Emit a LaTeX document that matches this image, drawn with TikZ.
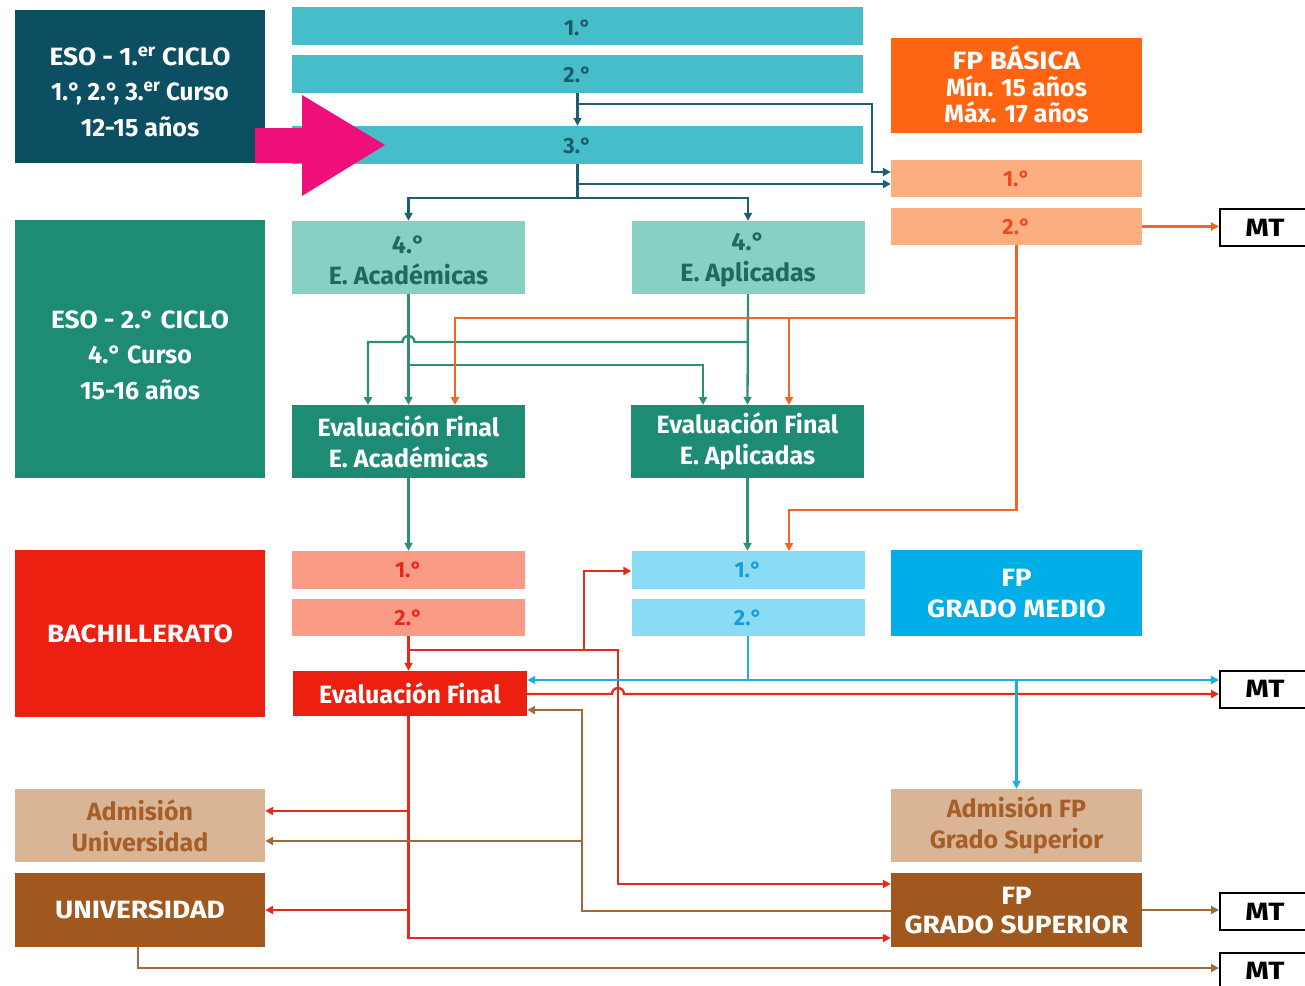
\documentclass[tikz,border=0pt]{standalone}
\usepackage{fontspec}
\usepackage{graphicx}
\setmainfont{Fira Sans}
\usetikzlibrary{arrows.meta}
\newcommand\wc[2][1.12]{\scalebox{#1}[1]{#2}}
\definecolor{esoone}{HTML}{0D4F62}
\definecolor{bar}{HTML}{45BEC9}
\definecolor{bartext}{HTML}{1B5C6B}
\definecolor{pink}{HTML}{EE0F7A}
\definecolor{fpb}{HTML}{FF6412}
\definecolor{fpblight}{HTML}{FBAF80}
\definecolor{fpbtext}{HTML}{EE4A1C}
\definecolor{esotwo}{HTML}{1E8C75}
\definecolor{fourlight}{HTML}{86D1C4}
\definecolor{fourtext}{HTML}{1E6A5B}
\definecolor{bachc}{HTML}{EB2010}
\definecolor{bachlight}{HTML}{F99B85}
\definecolor{bachtext}{HTML}{E8281A}
\definecolor{gmlight}{HTML}{8ADCF5}
\definecolor{gmtext}{HTML}{1A9BD8}
\definecolor{gmc}{HTML}{00AEE8}
\definecolor{tan}{HTML}{D9B596}
\definecolor{tantext}{HTML}{A65F28}
\definecolor{brown}{HTML}{A0581F}
\definecolor{tealline}{HTML}{1D5E70}
\definecolor{greenline}{HTML}{2F8E76}
\definecolor{orangeline}{HTML}{F26522}
\definecolor{redline}{HTML}{E8281A}
\definecolor{blueline}{HTML}{1AAEE2}
\definecolor{brownline}{HTML}{A06A3C}
\tikzset{
  box/.style={rectangle, inner sep=0pt},
  txt/.style={inner sep=0pt, align=center, font=\fontsize{25}{31}\selectfont\bfseries},
  talltxt/.style={txt, font=\fontsize{25}{35.5}\selectfont\bfseries},
  bartxt/.style={inner sep=0pt, font=\fontsize{22}{26}\selectfont\bfseries},
  sidebox/.style={box, minimum width=250pt},
  midbox/.style={box, minimum width=233pt},
  rightbox/.style={box, minimum width=251pt},
  mtbox/.style={rectangle, draw=black, line width=2pt, fill=white, minimum width=90pt, minimum height=37pt, inner sep=0pt, font=\fontsize{25}{28}\selectfont\bfseries},
  ln/.style={line width=2.3pt},
  arr/.style={ln, -{Triangle[length=8pt,width=8pt]}},
  tl/.style={draw=tealline, color=tealline},
  gl/.style={draw=greenline, color=greenline},
  ol/.style={draw=orangeline, color=orangeline},
  rl/.style={draw=redline, color=redline},
  bl/.style={draw=blueline, color=blueline},
  brl/.style={draw=brownline, color=brownline},
}
\begin{document}
\begin{tikzpicture}[x=1pt,y=-1pt]
\fill[white] (0,0) rectangle (1305,985);
\useasboundingbox (0,0) rectangle (1305,985);

% left column
\node[sidebox, fill=esoone, minimum height=153pt] (eso1) at (140,86.5) {};
\node[talltxt, text=white] (eso1t) at ([yshift=-5pt]eso1.center) {\wc[1.05]{ESO - 1.\textsuperscript{er} CICLO}\\\wc[0.97]{1.°, 2.°, 3.\textsuperscript{er} Curso}\\12-15 años};
\node[sidebox, fill=esotwo, minimum height=258pt] (eso2) at (140,349) {};
\node[talltxt, text=white] (eso2t) at ([yshift=-6pt]eso2.center) {\wc[1.05]{ESO - 2.° CICLO}\\4.° Curso\\15-16 años};
\node[sidebox, fill=bachc, minimum height=167pt] (bach) at (140,633.5) {};
\node[txt, text=white] (bacht) at (bach.center) {\wc{BACHILLERATO}};
\node[sidebox, fill=tan, minimum height=73pt] (admu) at (140,825.5) {};
\node[txt, text=tantext] (admut) at (admu.center) {Admisión\\Universidad};
\node[sidebox, fill=brown, minimum height=74pt] (univ) at (140,910) {};
\node[txt, text=white] (univt) at (univ.center) {\wc{UNIVERSIDAD}};

% top bars
\node[box, fill=bar, minimum width=571pt, minimum height=38pt] (bar1) at (577.5,26) {};
\node[bartxt, text=bartext] (bar1t) at ([yshift=-1.5pt]bar1.center) {1.°};
\node[box, fill=bar, minimum width=571pt, minimum height=38pt] (bar2) at (577.5,74) {};
\node[bartxt, text=bartext] (bar2t) at ([yshift=-1pt]bar2.center) {2.°};
\node[box, fill=bar, minimum width=571pt, minimum height=38pt] (bar3) at (577.5,145) {};
\node[bartxt, text=bartext] (bar3t) at ([yshift=-1pt]bar3.center) {3.°};

% FP basica
\node[rightbox, fill=fpb, minimum height=95pt] (fpb) at (1016.5,85.5) {};
\node[txt, text=white] (fpbt) at ([yshift=1pt]fpb.center) {\wc{FP BÁSICA}\\[-4.5pt]Mín. 15 años\\[-4.5pt]Máx. 17 años};
\node[rightbox, fill=fpblight, minimum height=37pt] (fpb1) at (1016.5,178.5) {};
\node[bartxt, text=fpbtext] (fpb1t) at (fpb1.center) {1.°};
\node[rightbox, fill=fpblight, minimum height=37pt] (fpb2) at (1016.5,226.5) {};
\node[bartxt, text=fpbtext] (fpb2t) at (fpb2.center) {2.°};

% 4th course
\node[midbox, fill=fourlight, minimum height=73pt] (acad4) at (408.5,257.5) {};
\node[txt, text=fourtext] (acad4t) at ([yshift=-2.5pt]acad4.center) {4.°\\E. Académicas};
\node[midbox, fill=fourlight, minimum height=73pt] (apl4) at (748,257.5) {};
\node[txt, text=fourtext] (apl4t) at ([yshift=-2.5pt]apl4.center) {4.°\\E. Aplicadas};
\node[midbox, fill=esotwo, minimum height=73pt] (efac) at (408.5,441.5) {};
\node[txt, text=white] (efact) at (efac.center) {Evaluación Final\\E. Académicas};
\node[midbox, fill=esotwo, minimum height=73pt] (efap) at (747.5,441.5) {};
\node[txt, text=white] (efapt) at (efap.center) {Evaluación Final\\E. Aplicadas};

% bachillerato / grado medio
\node[midbox, fill=bachlight, minimum height=38pt] (bach1) at (408.5,570) {};
\node[bartxt, text=bachtext] (bach1t) at (bach1.center) {1.°};
\node[midbox, fill=bachlight, minimum height=37pt] (bach2) at (408.5,617.5) {};
\node[bartxt, text=bachtext] (bach2t) at (bach2.center) {2.°};
\node[box, minimum width=234pt, fill=bachc, minimum height=45pt] (efb) at (410,693.5) {};
\node[txt, text=white] (efbt) at (efb.center) {Evaluación Final};
\node[midbox, fill=gmlight, minimum height=38pt] (gm1) at (748,570) {};
\node[bartxt, text=gmtext] (gm1t) at (gm1.center) {1.°};
\node[midbox, fill=gmlight, minimum height=37pt] (gm2) at (748,617.5) {};
\node[bartxt, text=gmtext] (gm2t) at (gm2.center) {2.°};
\node[rightbox, fill=gmc, minimum height=86pt] (gm) at (1016.5,593) {};
\node[txt, text=white] (gmt) at ([yshift=-1pt]gm.center) {\wc{FP}\\\wc{GRADO MEDIO}};
\node[rightbox, fill=tan, minimum height=73pt] (admfp) at (1016.5,825.5) {};
\node[txt, text=tantext] (admfpt) at (admfp.center) {Admisión FP\\Grado Superior};
\node[rightbox, fill=brown, minimum height=74pt] (fpgs) at (1016.5,910) {};
\node[txt, text=white] (fpgst) at ([yshift=-1pt]fpgs.center) {\wc{FP}\\[-2pt]\wc{GRADO SUPERIOR}};

% MT boxes
\node[mtbox] (mt1) at (1265,227.5) {\wc[1.2]{MT}};
\node[mtbox] (mt2) at (1265,689) {\wc[1.2]{MT}};
\node[mtbox] (mt3) at (1265,911.5) {\wc[1.2]{MT}};
\node[mtbox] (mt4) at (1265,971) {\wc[1.2]{MT}};

% pink arrow
\fill[pink] (255,128) -- (302,128) -- (302,95) -- (385,145) -- (302,196) -- (302,163) -- (255,163) -- cycle;

% teal connectors
\draw[arr, tl] (bar2.south) -- (bar3.north);
\draw[arr, tl] (577.5,104) -- (872,104) -- (872,172) -- (fpb1.west |- 0,172);
\draw[ln, tl] (bar3.south) -- (577.5,198);
\draw[arr, tl] (577.5,184) -- (fpb1.west |- 0,184);
\draw[arr, tl] (577.5,198) -| (acad4.north);
\draw[arr, tl] (577.5,198) -| (apl4.north);

% green connectors
\draw[arr, gl] (acad4.south) -- (efac.north);
\draw[arr, gl] (apl4.south) -- (efap.north);
\draw[arr, gl] (apl4.south |- 0,342) -- (414.5,342) arc[start angle=0, end angle=180, radius=6pt] -- (368,342) -- (368,405);
\draw[arr, gl] (acad4.south |- 0,365) -- (703,365) -- (703,405);
\draw[arr, gl] (efac.south) -- (bach1.north);
\draw[arr, gl] (efap.south) -- (efap.south |- gm1.north);

% orange connectors
\draw[arr, ol] (fpb2.south) -- (1016.5,510) -- (789,510) -- (789,551);
\draw[arr, ol] (1016.5,318) -- (455,318) -- (455,405);
\draw[arr, ol] (789,318) -- (789,405);
\draw[arr, ol] (fpb2.east) -- (mt1.west |- fpb2.east);

% red connectors
\draw[arr, rl] (bach2.south) -- (bach2.south |- efb.north);
\draw[arr, rl] (408.5,650) -- (618,650) -- (618,884) -- (fpgs.west |- 0,884);
\draw[arr, rl] (584,650) -- (584,571) -- (gm1.west |- 0,571);
\draw[arr, rl] (efb.east |- 0,694) -- (612,694) arc[start angle=180, end angle=0, radius=6pt] -- (mt2.west |- 0,694);
\draw[arr, rl] (408.5,716) -- (408.5,938) -- (fpgs.west |- 0,938);
\draw[arr, rl] (408.5,811) -- (admu.east |- 0,811);
\draw[arr, rl] (408.5,910) -- (univ.east);

% blue connectors
\draw[ln, bl] (gm2.south) -- (748,680);
\draw[ln, bl, {Triangle[length=8pt,width=8pt]}-{Triangle[length=8pt,width=8pt]}] (efb.east |- 0,680) -- (mt2.west |- 0,680);
\draw[arr, bl] (1016.5,680) -- (admfp.north);

% brown connectors
\draw[arr, brl] (fpgs.west |- 0,911) -- (582,911) -- (582,710) -- (efb.east |- 0,710);
\draw[arr, brl] (582,841) -- (admu.east |- 0,841);
\draw[arr, brl] (fpgs.east) -- (mt3.west |- fpgs.east);
\draw[arr, brl] (univ.south -| 138,0) -- (138,968) -- (mt4.west |- 0,968);
\end{tikzpicture}
\end{document}
